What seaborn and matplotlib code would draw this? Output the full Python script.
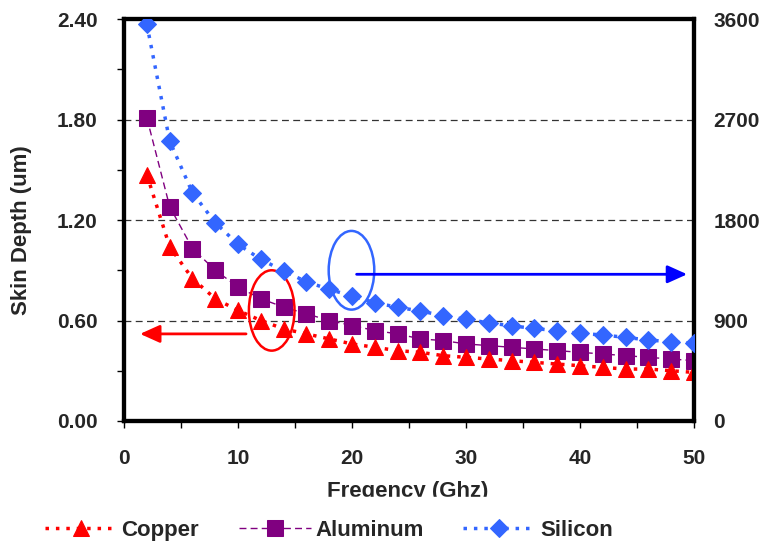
import matplotlib
matplotlib.use("Agg")
import matplotlib.pyplot as plt
import seaborn as sns
import numpy as np
import pandas as pd
from matplotlib.patches import Ellipse

freq = list(range(2, 51, 2))
copper = [1.47, 1.04, 0.85, 0.73, 0.66, 0.60, 0.55, 0.52, 0.49, 0.46, 0.44, 0.42, 0.41,
          0.39, 0.38, 0.37, 0.36, 0.35, 0.34, 0.33, 0.32, 0.31, 0.31, 0.30, 0.29]
aluminum = [1.81, 1.28, 1.03, 0.90, 0.80, 0.73, 0.68, 0.64, 0.60, 0.57, 0.54, 0.52, 0.49,
            0.48, 0.46, 0.45, 0.44, 0.43, 0.42, 0.41, 0.40, 0.39, 0.38, 0.37, 0.36]
silicon = [3552, 2507, 2044, 1776, 1582, 1448, 1343, 1247, 1179, 1119, 1060, 1018, 985,
           943, 910, 880, 851, 830, 806, 785, 770, 749, 725, 710, 696]
left_ticks = [0.00, 0.60, 1.20, 1.80, 2.40]
right_ticks = [0, 900, 1800, 2700, 3600]
x_ticks = [0, 10, 20, 30, 40, 50]

sns.set_theme(style="white")
plt.rcParams['font.family'] = ['Liberation Sans', 'DejaVu Sans']
plt.rcParams['font.weight'] = 'bold'

df = pd.DataFrame({"freq": freq, "Copper": copper, "Aluminum": aluminum, "Silicon": silicon})

fig = plt.figure(figsize=(7.66, 5.46), dpi=100)
ax = fig.add_axes([0.162, 0.229, 0.744, 0.736])
ax2 = ax.twinx()

sns.lineplot(data=df, x="freq", y="Copper", ax=ax, color="#ff0000", marker="^", markersize=12,
             markeredgecolor="#ff0000", linewidth=2.5, linestyle=(0, (1, 2)), label="Copper",
             legend=False, zorder=4)
sns.lineplot(data=df, x="freq", y="Aluminum", ax=ax, color="#800080", marker="s", markersize=11,
             markeredgecolor="#800080", linewidth=1.0, linestyle=(0, (5, 3)), label="Aluminum",
             legend=False, zorder=3)
sns.lineplot(data=df, x="freq", y="Silicon", ax=ax2, color="#3366ff", marker="D", markersize=9,
             markeredgecolor="#3366ff", linewidth=2.5, linestyle=(0, (1, 2)), label="Silicon",
             legend=False, zorder=3)

ax.set_xlim(0, 50)
ax.set_ylim(0, 2.4)
ax2.set_ylim(0, 3600)
ax.set_xticks(x_ticks)
ax.set_xticks([5, 15, 25, 35, 45], minor=True)
ax.set_yticks(left_ticks)
ax.set_yticklabels([f"{v:.2f}" for v in left_ticks])
ax.set_yticks([0.3, 0.9, 1.5, 2.1], minor=True)
ax2.set_yticks(right_ticks)
ax2.set_yticklabels([str(v) for v in right_ticks])

for yv in [0.6, 1.2, 1.8]:
    ax.axhline(yv, color="#333333", linewidth=0.9, linestyle=(0, (5.5, 3.5)), zorder=1)

for a in (ax, ax2):
    for s in a.spines.values():
        s.set_linewidth(3)
        s.set_color("black")

ax.tick_params(axis="both", which="both", direction="out", color="black", width=1,
               labelsize=15, bottom=True, left=True, length=5)
ax.tick_params(axis="y", which="major", pad=14)
ax.tick_params(axis="x", which="major", pad=15)
ax2.tick_params(axis="y", which="both", length=0, labelsize=15, pad=14)
for lbl in ax.get_xticklabels() + ax.get_yticklabels() + ax2.get_yticklabels():
    lbl.set_fontweight("bold")

ax.set_ylabel("Skin Depth (um)", fontsize=16, fontweight="bold")
ax.yaxis.set_label_coords(-0.161, 0.475)
ax2.set_ylabel("")
ax.set_xlabel("Freqency (Ghz)", fontsize=16, fontweight="bold")
ax.xaxis.set_label_coords(0.497, -0.150)

# annotations
ax.add_patch(Ellipse((12.95, 0.66), 4.0, 0.48, fill=False, edgecolor="#ff0000", linewidth=1.8, zorder=5))
ax.annotate("", xy=(1.4, 0.52), xytext=(10.7, 0.52),
            arrowprops=dict(arrowstyle="-|>,head_length=1.0,head_width=0.45", color="#ff0000",
                            linewidth=2, shrinkA=0, shrinkB=0), zorder=5)
ax.add_patch(Ellipse((19.95, 0.90), 4.0, 0.47, fill=False, edgecolor="#3366ff", linewidth=1.8, zorder=5))
ax.annotate("", xy=(49.4, 0.876), xytext=(20.4, 0.876),
            arrowprops=dict(arrowstyle="-|>,head_length=1.0,head_width=0.45", color="#0000ff",
                            linewidth=2, shrinkA=0, shrinkB=0), zorder=5)

h1, l1 = ax.get_legend_handles_labels()
h2, l2 = ax2.get_legend_handles_labels()
leg = fig.legend(h1 + h2, l1 + l2, loc="center", bbox_to_anchor=(0.429, 0.0293), ncol=3,
                 frameon=True, fontsize=16, handlelength=3.24, columnspacing=1.8,
                 handletextpad=0.2, borderpad=1.0, borderaxespad=0)
leg.get_frame().set_facecolor("white")
leg.get_frame().set_edgecolor("white")
leg.get_frame().set_alpha(1)
leg.set_zorder(10)
for t in leg.get_texts():
    t.set_fontweight("bold")

fig.savefig("out.png", dpi=100)
